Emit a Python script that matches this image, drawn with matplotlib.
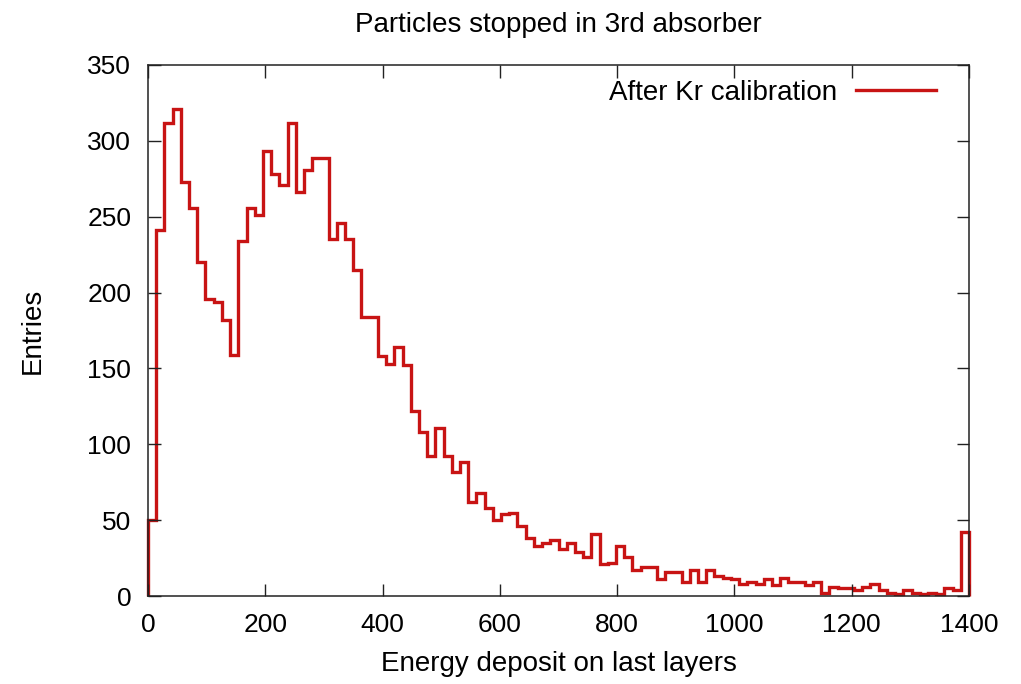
import numpy as np
import matplotlib
matplotlib.use("Agg")
import matplotlib.pyplot as plt

plt.rcParams['font.family'] = ['Liberation Sans', 'DejaVu Sans']

title = "Particles stopped in 3rd absorber"
xlabel = "Energy deposit on last layers"
ylabel = "Entries"
series_label = "After Kr calibration"

x_min, x_max, n_bins = 0, 1400, 100
counts = [
    50, 241, 312, 321, 273, 256, 220, 196, 194, 182,
    159, 234, 256, 251, 293, 278, 271, 312, 266, 281,
    289, 289, 235, 246, 235, 215, 184, 184, 158, 153,
    164, 152, 122, 108, 92, 111, 92, 82, 88, 62,
    68, 58, 50, 54, 55, 46, 38, 33, 35, 37,
    31, 35, 29, 26, 41, 21, 22, 33, 26, 17,
    19, 19, 11, 16, 16, 9, 17, 9, 17, 13,
    12, 11, 8, 9, 8, 11, 7, 12, 9, 9,
    7, 9, 2, 6, 5, 5, 4, 6, 8, 4,
    2, 1, 4, 2, 1, 2, 1, 5, 4, 42,
]
xticks = [0, 200, 400, 600, 800, 1000, 1200, 1400]
yticks = [0, 50, 100, 150, 200, 250, 300, 350]

edges = np.linspace(x_min, x_max, n_bins + 1)

fig = plt.figure(figsize=(10.21, 6.84), dpi=100)
ax = fig.add_axes([148/1021, 1 - 596/684, (969-148)/1021, (596-65)/684])

ax.stairs(counts, edges, color='#c81414', linewidth=2.4, label=series_label,
          baseline=0, clip_on=False)

ax.set_xlim(x_min, x_max)
ax.set_ylim(0, 350)
ax.set_xticks(xticks)
ax.set_yticks(yticks)
ax.tick_params(direction='in', top=True, right=True, length=9, width=1,
               labelsize=19, pad=12, color='#222222')
for s in ax.spines.values():
    s.set_linewidth(1.1)
    s.set_color('#222222')

ax.set_title(title, fontsize=20, pad=24)
ax.set_xlabel(xlabel, fontsize=20, labelpad=10)
ax.set_ylabel(ylabel, fontsize=20, labelpad=30)

leg = ax.legend(loc='upper right', bbox_to_anchor=(0.96, 0.972), frameon=False,
                markerfirst=False, handlelength=2.9, handletextpad=0.65,
                borderaxespad=0, borderpad=0, fontsize=20)

fig.savefig("out.png", dpi=100)
